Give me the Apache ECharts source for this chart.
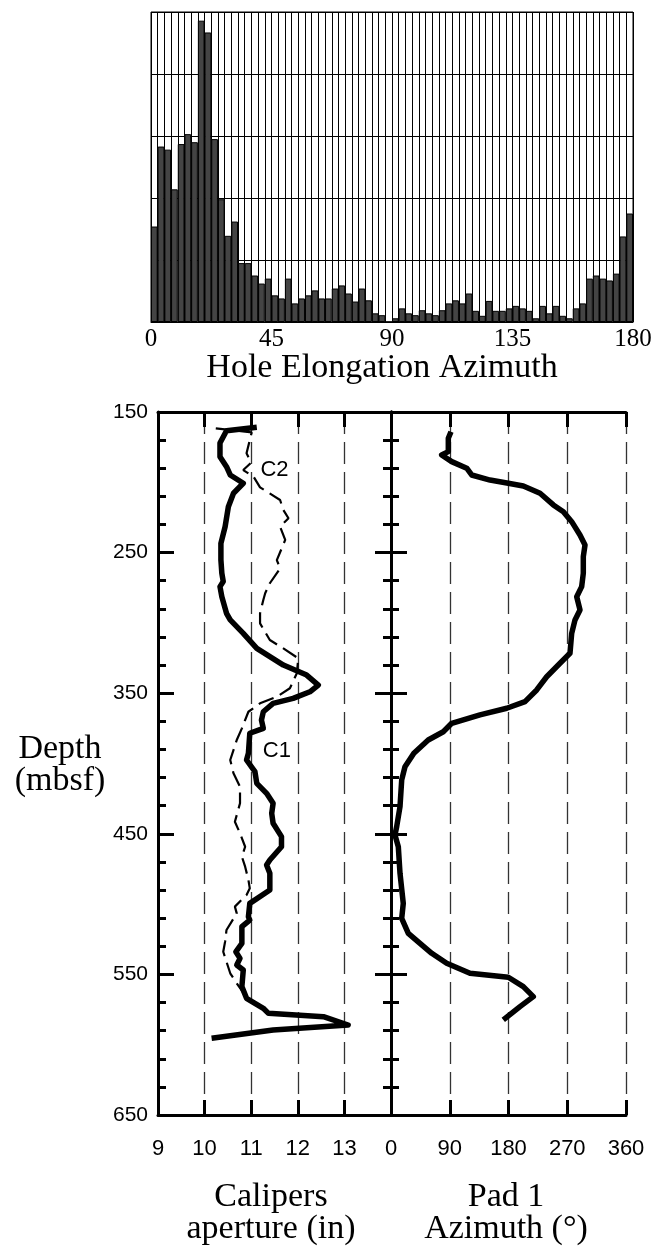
<!DOCTYPE html>
<html>
<head>
<meta charset="utf-8">
<script src="https://cdn.jsdelivr.net/npm/echarts@6/dist/echarts.min.js"></script>
<style>
  html, body { margin: 0; padding: 0; background: #fff; }
  #chart { width: 661px; height: 1249px; }
</style>
</head>
<body>
<div id="chart"></div>
<script>
// ---- Hole elongation azimuth histogram (2.5° bins, 0–180°) ----
const BIN_WIDTH = 2.5;
const elongationFreq = [
  1.54, 2.83, 2.78, 2.14, 2.87, 3.03, 2.90, 4.86, 4.67, 2.95,
  1.98, 1.39, 1.62, 0.95, 0.95, 0.75, 0.62, 0.70, 0.43, 0.38,
  0.70, 0.30, 0.38, 0.43, 0.51, 0.38, 0.38, 0.54, 0.59, 0.46,
  0.33, 0.54, 0.35, 0.14, 0.11, 0.00, 0.06, 0.22, 0.14, 0.11,
  0.19, 0.14, 0.11, 0.19, 0.30, 0.35, 0.30, 0.46, 0.18, 0.10,
  0.34, 0.18, 0.18, 0.22, 0.26, 0.22, 0.18, 0.06, 0.26, 0.14,
  0.26, 0.10, 0.06, 0.22, 0.30, 0.70, 0.75, 0.70, 0.67, 0.78,
  1.38, 1.75
];
const azimuthLabels = [0, 45, 90, 135, 180];

// ---- Caliper C1 (thick solid) ----
const c1Depth = [
  160.9, 163.3, 172, 181.8, 188.9, 194.8, 200.7, 207.8, 217.4, 231.6,
  243.4, 255.3, 264.7, 270.6, 274.2, 281.4, 293.2, 297.9, 307.4, 318.1,
  330, 337.1, 344.2, 349, 353.7, 357.2, 363.2, 369.1, 375, 378.5,
  392.7, 397.5, 405.8, 414.1, 421.2, 428.3, 435.4, 442.5, 452, 459.2,
  468.6, 472.2, 478.1, 490, 499.5, 509, 511.4, 516.1, 528, 533.9,
  538.6, 543.3, 546.9, 558.7, 567, 574.1, 577.7, 580.1, 586, 589.5,
  595.4
];
const c1Aperture = [
  11.12, 10.47, 10.33, 10.33, 10.47, 10.55, 10.83, 10.62, 10.51, 10.44,
  10.35, 10.35, 10.37, 10.40, 10.33, 10.37, 10.47, 10.55, 10.83, 11.12,
  11.69, 12.19, 12.44, 12.26, 11.90, 11.47, 11.26, 11.22, 11.26, 10.97,
  10.94, 10.90, 11.08, 11.12, 11.33, 11.47, 11.44, 11.47, 11.65, 11.65,
  11.40, 11.33, 11.40, 11.40, 10.97, 10.94, 10.97, 10.80, 10.80, 10.67,
  10.76, 10.69, 10.83, 10.80, 10.90, 11.26, 11.37, 12.55, 13.08, 11.47,
  10.15
];

// ---- Caliper C2 (thin dashed) ----
const c2Depth = [
  161.6, 163, 164.5, 179.4, 186, 191.3, 196, 203.6, 212.6, 219.7,
  225.6, 231.6, 241, 255.3, 261.2, 271.8, 278.9, 283.7, 293.2, 300.3,
  312.2, 318.1, 325.2, 335.8, 346.5, 352.5, 357.2, 363.2, 375, 383.3,
  397.5, 407, 416.5, 428.3, 441.4, 449.6, 459.2, 466.3, 473.4, 482.8,
  488.8, 493.5, 501.8, 506.6, 518.4, 526.7, 533.9, 549.2, 556.3, 568.2
];
const c2Aperture = [
  10.24, 10.60, 11.01, 10.90, 11.00, 10.83, 11.05, 11.19, 11.62, 11.69,
  11.80, 11.62, 11.73, 11.55, 11.62, 11.40, 11.30, 11.26, 11.19, 11.19,
  11.40, 11.69, 12.01, 11.98, 11.83, 11.55, 11.19, 10.94, 10.80, 10.69,
  10.55, 10.62, 10.76, 10.76, 10.65, 10.76, 10.87, 10.80, 10.87, 10.94,
  10.97, 10.90, 10.65, 10.69, 10.47, 10.44, 10.40, 10.55, 10.69, 10.94
];

// ---- Pad 1 azimuth ----
const padDepth = [
  164, 168.7, 178.2, 180.6, 185.3, 190, 194.8, 198.4, 200.7, 202.6,
  207.8, 216.1, 220.9, 228, 237.5, 244.6, 252.9, 264.7, 274.2, 281.4,
  290.8, 297.9, 307.4, 321.6, 328.7, 338.3, 347.7, 356, 360.7, 365.4,
  371.4, 377.4, 383.3, 392.7, 402.3, 411.7, 430.7, 444.9, 450.8, 459.2,
  478.1, 499.5, 510.2, 520.8, 527.9, 535, 542.1, 549.2, 552, 558.7,
  565.8, 572.9, 582.4
];
const padAzimuth = [
  91.9, 87.8, 87.8, 77.6, 93.0, 116, 123.6, 151.7, 179.7, 202.7,
  228.3, 248.7, 264, 276.8, 289.5, 297.2, 294.6, 294.6, 292.1, 284.5,
  289.5, 281.9, 276.8, 274.2, 258.9, 238.5, 223.2, 205.3, 177.3, 136.3,
  93, 80.1, 57, 35, 21.4, 16.4, 13.8, 8.7, 6.1, 11.2,
  13.8, 18.8, 16.4, 26.5, 44.4, 62.4, 85.3, 121, 179.7, 202.7,
  218, 197.6, 172
];

// Axis ranges and tick labels
const depthRange = [150, 650];
const depthStep = 100;
const apertureRange = [9, 14];
const apertureLabels = [9, 10, 11, 12, 13];
const padRange = [0, 360];
const padLabels = [0, 90, 180, 270, 360];

const SANS = '"Liberation Sans", Arial, Helvetica, sans-serif';
const SERIF = '"Liberation Serif", "Times New Roman", Times, serif';
const INK = '#000';

const zip = (xs, ys) => xs.map((x, i) => [x, ys[i]]);
const binLabels = elongationFreq.map((_, i) => (i * BIN_WIDTH + BIN_WIDTH / 2).toFixed(2));

function depthAxis(gridIndex, position, withLabels) {
  return {
    type: 'value', gridIndex, position, inverse: true,
    min: depthRange[0], max: depthRange[1], interval: depthStep,
    axisLine: { show: true, lineStyle: { color: INK, width: 3 } },
    axisTick: { show: true, inside: true, length: 16, lineStyle: { color: INK, width: 3 } },
    minorTick: { show: true, splitNumber: 5, length: 8, lineStyle: { color: INK, width: 3 } },
    axisLabel: { show: withLabels, color: INK, fontFamily: SANS, fontSize: 21, margin: 10 },
    splitLine: { show: false }
  };
}

function trackXAxis(gridIndex, range, step, labels, position, withLabels, dashed) {
  return {
    type: 'value', gridIndex, position,
    min: range[0], max: range[1], interval: step,
    axisLine: { show: true, lineStyle: { color: INK, width: 3 } },
    axisTick: { show: true, inside: true, length: 15, lineStyle: { color: INK, width: 3 } },
    axisLabel: {
      show: withLabels, color: INK, fontFamily: SANS, fontSize: 22, margin: 23,
      formatter: v => (labels.indexOf(v) >= 0 ? String(v) : '')
    },
    splitLine: { show: dashed, lineStyle: { color: '#333', width: 1.3, type: [22, 8] } }
  };
}

const chart = echarts.init(document.getElementById('chart'), null, { renderer: 'canvas' });

chart.setOption({
  animation: false,
  backgroundColor: '#fff',
  grid: [
    { left: 151, top: 12, width: 482, height: 310, show: true, borderColor: INK, borderWidth: 1 },
    { left: 158, top: 412, width: 233, height: 703 },
    { left: 391, top: 412, width: 235, height: 703 }
  ],
  xAxis: [
    // histogram bins (bars)
    { type: 'category', gridIndex: 0, data: binLabels, show: false, boundaryGap: true },
    // histogram azimuth scale (grid lines + labels)
    {
      type: 'value', gridIndex: 0, position: 'bottom', min: 0, max: 180, interval: BIN_WIDTH,
      axisLine: { show: true, lineStyle: { color: INK, width: 1 } },
      axisTick: { show: false },
      axisLabel: {
        color: INK, fontFamily: SERIF, fontSize: 25, margin: 5,
        formatter: v => (azimuthLabels.indexOf(v) >= 0 ? String(v) : '')
      },
      splitLine: { show: true, lineStyle: { color: INK, width: 1 } }
    },
    trackXAxis(1, apertureRange, 1, apertureLabels, 'bottom', true, true),
    trackXAxis(1, apertureRange, 1, apertureLabels, 'top', false, false),
    trackXAxis(2, padRange, 90, padLabels, 'bottom', true, true),
    trackXAxis(2, padRange, 90, padLabels, 'top', false, false)
  ],
  yAxis: [
    {
      type: 'value', gridIndex: 0, min: 0, max: 5, interval: 1,
      axisLine: { show: false }, axisTick: { show: false }, axisLabel: { show: false },
      splitLine: { show: true, lineStyle: { color: INK, width: 1 } }
    },
    depthAxis(1, 'left', true),
    depthAxis(1, 'right', false),
    depthAxis(2, 'left', false),
    depthAxis(2, 'right', false)
  ],
  series: [
    {
      type: 'bar', xAxisIndex: 0, yAxisIndex: 0, data: elongationFreq,
      barWidth: '100%', silent: true,
      itemStyle: { color: '#444', borderColor: INK, borderWidth: 1 }
    },
    {
      name: 'C1', type: 'line', xAxisIndex: 2, yAxisIndex: 1,
      data: zip(c1Aperture, c1Depth), showSymbol: false, symbol: 'none', silent: true,
      lineStyle: { color: INK, width: 5.5, join: 'round', cap: 'butt' }
    },
    {
      name: 'C2', type: 'line', xAxisIndex: 2, yAxisIndex: 1,
      data: zip(c2Aperture, c2Depth), showSymbol: false, symbol: 'none', silent: true,
      lineStyle: { color: INK, width: 2.2, type: [16, 7] }
    },
    {
      name: 'Pad 1', type: 'line', xAxisIndex: 4, yAxisIndex: 3,
      data: zip(padAzimuth, padDepth), showSymbol: false, symbol: 'none', silent: true,
      lineStyle: { color: INK, width: 5.5, join: 'round', cap: 'butt' }
    }
  ]
});

// Curve labels placed in data coordinates of the caliper track
const c1LabelPos = chart.convertToPixel({ seriesIndex: 1 }, [11.55, 391]);
const c2LabelPos = chart.convertToPixel({ seriesIndex: 2 }, [11.50, 191.5]);

const titleStyle = (text, x, y) => ({
  type: 'text', x, y, silent: true,
  style: {
    text, fill: INK, font: '34px ' + SERIF, lineHeight: 32,
    textAlign: 'center', textVerticalAlign: 'middle'
  }
});
const curveLabel = (text, pos) => ({
  type: 'text', x: pos[0], y: pos[1], silent: true,
  style: { text, fill: INK, font: '22px ' + SANS, textAlign: 'center', textVerticalAlign: 'middle' }
});

chart.setOption({
  graphic: [
    titleStyle('Hole Elongation Azimuth', 382, 368),
    titleStyle('Depth\n(mbsf)', 60, 765),
    titleStyle('Calipers\naperture (in)', 271, 1213),
    titleStyle('Pad 1\nAzimuth (°)', 506, 1213),
    curveLabel('C2', c2LabelPos),
    curveLabel('C1', c1LabelPos)
  ]
});
</script>
</body>
</html>
